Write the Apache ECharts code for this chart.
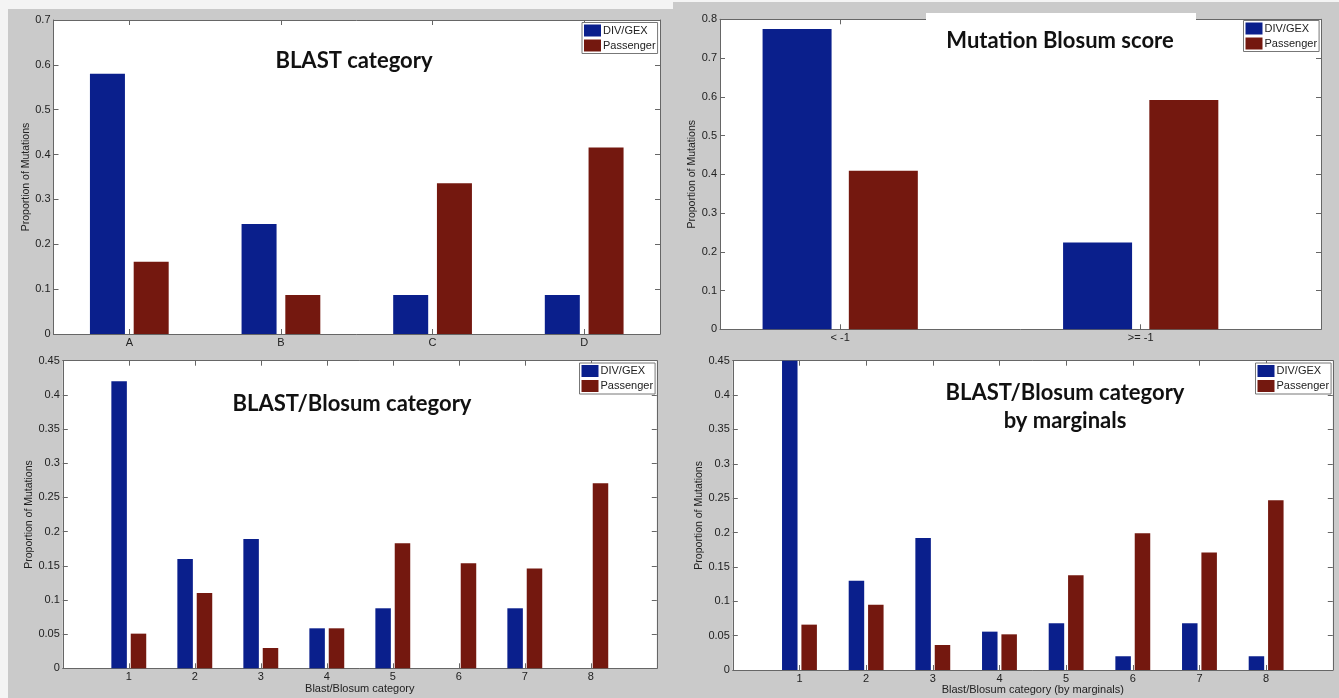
<!DOCTYPE html>
<html>
<head>
<meta charset="utf-8">
<script src="https://cdn.jsdelivr.net/npm/echarts@6/dist/echarts.min.js"></script>
<style>
html,body{margin:0;padding:0;background:#f4f4f4;}
#chart{width:1339px;height:698px;}
</style>
</head>
<body>
<div id="chart"></div>
<script>
// ---- data ----
const seriesNames = ['DIV/GEX', 'Passenger'];
const catsBlast = ['A', 'B', 'C', 'D'];
const blastDiv = [0.58, 0.245, 0.087, 0.087];
const blastPass = [0.161, 0.087, 0.336, 0.416];
const catsBlosum = ['< -1', '>= -1'];
const blosumDiv = [0.775, 0.224];
const blosumPass = [0.409, 0.592];
const catsBB = ['1', '2', '3', '4', '5', '6', '7', '8'];
const bbDiv = [0.42, 0.16, 0.189, 0.0585, 0.0878, 0, 0.0878, 0];
const bbPass = [0.0507, 0.11, 0.0297, 0.0585, 0.183, 0.1536, 0.146, 0.2706];
const margDiv = [0.45, 0.13, 0.192, 0.0558, 0.068, 0.02, 0.068, 0.02];
const margPass = [0.066, 0.095, 0.0364, 0.0519, 0.138, 0.199, 0.171, 0.247];
const titles = ['BLAST category', 'Mutation Blosum score', 'BLAST/Blosum category', 'BLAST/Blosum category\nby marginals'];
const yName = 'Proportion of Mutations';
const xNames = ['', '', 'Blast/Blosum category', 'Blast/Blosum category (by marginals)'];

// ---- styles ----
const BLUE = '#0a1f8c';
const RED = '#74180f';
const AX = '#666';
const FONT = '"Liberation Sans", Arial, sans-serif';
const TFONT = 'Lato, "Open Sans", sans-serif';

const grids = [
  {left: 53.5, top: 20, width: 606.5, height: 314},
  {left: 720, top: 19.3, width: 601, height: 310},
  {left: 62.8, top: 360.7, width: 594, height: 307.6},
  {left: 732.8, top: 360.7, width: 600, height: 309.3}
].map(g => Object.assign({show: true, backgroundColor: '#fff', borderWidth: 0, containLabel: false}, g));

const yCfg = [
  {max: 0.7, interval: 0.1, nameGap: 22},
  {max: 0.8, interval: 0.1, nameGap: 21},
  {max: 0.45, interval: 0.05, nameGap: 28},
  {max: 0.45, interval: 0.05, nameGap: 28}
];

const xAxes = [];
const yAxes = [];
const lineStyle = {color: AX, width: 1};
const tickStyle = {color: AX, width: 1};

function xPair(i, base) {
  const common = Object.assign({gridIndex: i, axisLine: {show: true, onZero: false, lineStyle}, splitLine: {show: false}}, base);
  xAxes.push(Object.assign({}, common, {
    position: 'bottom',
    name: xNames[i], nameLocation: 'middle', nameGap: 14,
    nameTextStyle: {fontFamily: FONT, fontSize: 11, color: '#222', verticalAlign: 'top'},
    axisTick: Object.assign({show: true, inside: true, length: 5, lineStyle: tickStyle}, base.tickExtra || {}),
    axisLabel: Object.assign({show: true, margin: 3, fontFamily: FONT, fontSize: 11, color: '#222'}, base.labelExtra || {})
  }));
  xAxes.push(Object.assign({}, common, {
    position: 'top',
    axisTick: Object.assign({show: true, inside: true, length: 5, lineStyle: tickStyle}, base.tickExtra || {}),
    axisLabel: {show: false}
  }));
}
function yPair(i) {
  const c = yCfg[i];
  const common = {type: 'value', gridIndex: i, min: 0, max: c.max, interval: c.interval,
    axisLine: {show: true, onZero: false, lineStyle}, splitLine: {show: false},
    axisTick: {show: true, inside: true, length: 5, lineStyle: tickStyle}};
  yAxes.push(Object.assign({}, common, {
    position: 'left', name: yName, nameLocation: 'middle', nameGap: c.nameGap, nameRotate: 90,
    nameTextStyle: {fontFamily: FONT, fontSize: 10.5, color: '#222'},
    axisLabel: {show: true, margin: 3, fontFamily: FONT, fontSize: 11, color: '#222'}
  }));
  yAxes.push(Object.assign({}, common, {position: 'right', axisLabel: {show: false}}));
}

// panel 0: category axis
xPair(0, {type: 'category', data: catsBlast, boundaryGap: true, tickExtra: {alignWithLabel: true}});
// panel 1: value axis with asymmetric limits
const pos1 = catsBlosum.map((c, k) => k + 1);
xPair(1, {type: 'value', min: 0.6, max: 2.6,
  tickExtra: {customValues: pos1},
  labelExtra: {customValues: pos1, formatter: v => catsBlosum[Math.round(v) - 1] || ''}});
// panels 2,3: value axes 0..9
const pos8 = catsBB.map((c, k) => k + 1);
[2, 3].forEach(i => xPair(i, {type: 'value', min: 0, max: 9,
  tickExtra: {customValues: pos8},
  labelExtra: {customValues: pos8, formatter: v => catsBB[Math.round(v) - 1] || ''}}));
[0, 1, 2, 3].forEach(yPair);

function barSeries(i, name, color, vals, useIndexX, width) {
  return {
    type: 'bar', name, xAxisIndex: 2 * i, yAxisIndex: 2 * i,
    data: useIndexX ? vals.map((v, k) => [k + 1, v]) : vals,
    barWidth: width, barGap: '25%',
    itemStyle: {color, borderWidth: 0},
    emphasis: {disabled: true}, animation: false
  };
}

const series = [
  barSeries(0, seriesNames[0], BLUE, blastDiv, false, 35),
  barSeries(0, seriesNames[1], RED, blastPass, false, 35),
  barSeries(1, seriesNames[0], BLUE, blosumDiv, true, 69),
  barSeries(1, seriesNames[1], RED, blosumPass, true, 69),
  barSeries(2, seriesNames[0], BLUE, bbDiv, true, 15.5),
  barSeries(2, seriesNames[1], RED, bbPass, true, 15.5),
  barSeries(3, seriesNames[0], BLUE, margDiv, true, 15.5),
  barSeries(3, seriesNames[1], RED, margPass, true, 15.5)
];

const legendPos = [
  {left: 582, top: 22.5},
  {left: 1243.5, top: 20.5},
  {left: 579.5, top: 363},
  {left: 1255.5, top: 363}
];
const legends = legendPos.map(p => Object.assign({
  orient: 'vertical', data: seriesNames.map(n => ({name: n, icon: 'rect'})),
  itemWidth: 17, itemHeight: 12, itemGap: 3, padding: [2, 2, 2, 2],
  backgroundColor: '#fff', borderColor: '#777', borderWidth: 1, borderRadius: 0,
  selectedMode: false,
  textStyle: {fontFamily: FONT, fontSize: 11, color: '#222', padding: [0, 0, 0, -3]}
}, p));

const titlePos = [[354, 61], [1060, 41], [352, 404], [1065, 407]];
const tStyle = {font: 'bold 22px ' + TFONT, fill: '#111', textAlign: 'center', textVerticalAlign: 'middle', lineHeight: 28};
const graphic = [
  {type: 'rect', shape: {x: 0, y: 0, width: 8, height: 698}, style: {fill: '#f4f4f4'}, z: 100, silent: true},
  {type: 'rect', shape: {x: 0, y: 0, width: 673, height: 9}, style: {fill: '#f4f4f4'}, z: 100, silent: true},
  {type: 'rect', shape: {x: 673, y: 0, width: 666, height: 2}, style: {fill: '#f4f4f4'}, z: 100, silent: true},
  {type: 'rect', shape: {x: 926, y: 13, width: 270, height: 20}, style: {fill: '#fff'}, z: 100, silent: true}
].concat(titles.map((t, i) => ({
  type: 'text', x: titlePos[i][0], y: titlePos[i][1], z: 110, silent: true,
  style: Object.assign({text: t}, tStyle)
})));

const chart = echarts.init(document.getElementById('chart'), null, {renderer: 'canvas'});
chart.setOption({
  backgroundColor: '#cacaca',
  animation: false,
  grid: grids,
  xAxis: xAxes,
  yAxis: yAxes,
  legend: legends,
  series,
  graphic
});
</script>
</body>
</html>
